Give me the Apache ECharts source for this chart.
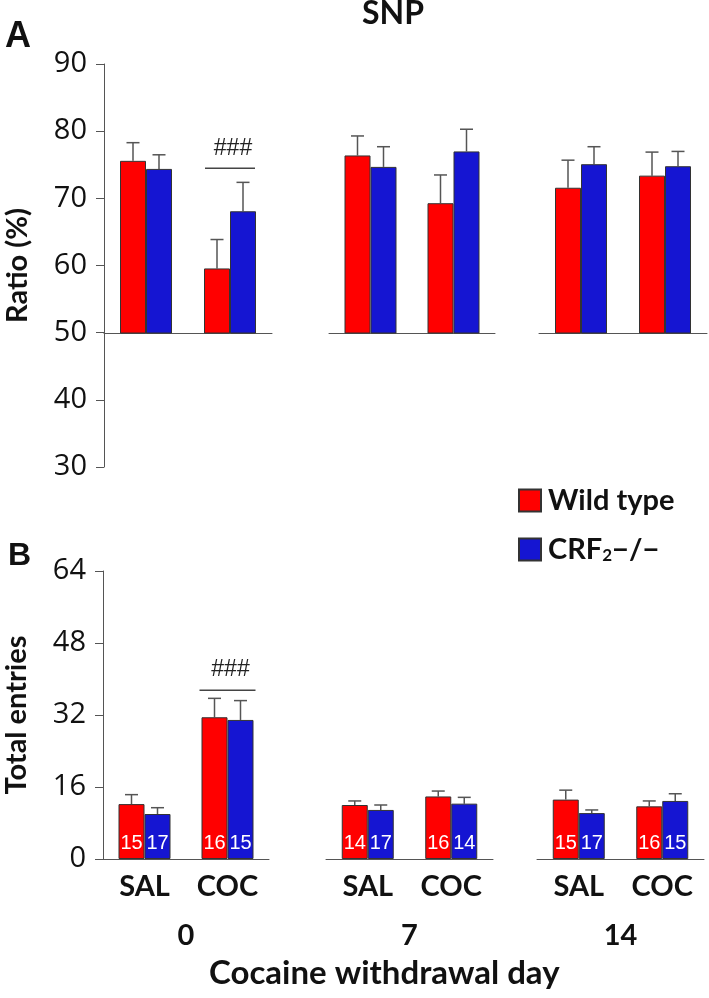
<!DOCTYPE html>
<html><head><meta charset="utf-8">
<script src="https://cdn.jsdelivr.net/npm/echarts@6/dist/echarts.min.js"></script>
<style>html,body{margin:0;padding:0;background:#fff}#c{width:709px;height:998px}</style>
</head><body><div id="c"></div>
<script>
// ---- data ----
const days = ['0', '7', '14'];
const treatments = ['SAL', 'COC'];
const seriesNames = ['Wild type', 'CRF2−/−'];
// order: day0 SAL, day0 COC, day7 SAL, day7 COC, day14 SAL, day14 COC
const ratioWT = [75.6, 59.6, 76.4, 69.3, 71.6, 73.4];
const ratioWTErr = [2.7, 4.3, 2.9, 4.2, 4.1, 3.5];
const ratioKO = [74.4, 68.1, 74.7, 77.0, 75.1, 74.8];
const ratioKOErr = [2.1, 4.3, 3.0, 3.3, 2.6, 2.2];
const entriesWT = [12.2, 31.5, 12.0, 13.9, 13.2, 11.7];
const entriesWTErr = [2.1, 4.2, 0.9, 1.2, 2.1, 1.2];
const entriesKO = [10.0, 30.9, 10.9, 12.3, 10.2, 12.9];
const entriesKOErr = [1.4, 4.3, 1.1, 1.4, 0.7, 1.6];
const nWT = [15, 16, 14, 16, 15, 16];
const nKO = [17, 15, 17, 14, 17, 15];
const ratioTicks = [30, 40, 50, 60, 70, 80, 90];
const ratioBase = 50;
const entriesTicks = [0, 16, 32, 48, 64];
const sigRatio = {cat: 'COC', y: 74.5, text: '###'};
const sigEntries = {cat: 'COC', y: 37.5, text: '###'};

// ---- style ----
const RED = '#ff0000', BLUE = '#1515d2', AX = '#555';
const BOLD = 'Lato';
const BW = 26;

const chart = echarts.init(document.getElementById('c'));

const gridsA = [{left:104,width:168},{left:329,width:166},{left:539,width:168}];
const gridsB = [{left:103,width:166},{left:326,width:167},{left:537,width:167}];
const topA = 64, hA = 269, hAfull = 403;
const topB = 571, hB = 288;

const grid = [{left:104, top:topA, width:1, height:hAfull}];
gridsA.forEach(g => grid.push({left:g.left, top:topA, width:g.width, height:hA}));
gridsB.forEach(g => grid.push({left:g.left, top:topB, width:g.width, height:hB}));

const tickLabel = {fontFamily:'Open Sans', fontSize:29, color:'#111', margin:17};
const xAxis = [{type:'category', gridIndex:0, data:[''], show:false}];
const yAxis = [{
  type:'value', gridIndex:0, min:ratioTicks[0], max:ratioTicks[ratioTicks.length-1],
  interval:ratioTicks[1]-ratioTicks[0],
  axisLine:{show:true, lineStyle:{color:AX, width:1}},
  axisTick:{show:true, length:8, lineStyle:{color:AX}},
  axisLabel:tickLabel,
  splitLine:{show:false},
  name:'Ratio (%)', nameLocation:'middle', nameGap:72, nameRotate:90,
  nameTextStyle:{fontFamily:BOLD, fontWeight:'bold', fontSize:29, color:'#111'}
}];
gridsA.forEach((g,i) => {
  xAxis.push({type:'category', gridIndex:1+i, data:treatments,
    axisLine:{show:true, lineStyle:{color:AX, width:1}}, axisTick:{show:false}, axisLabel:{show:false}});
  yAxis.push({type:'value', gridIndex:1+i, min:ratioBase, max:ratioTicks[ratioTicks.length-1], show:false, splitLine:{show:false}});
});
gridsB.forEach((g,i) => {
  xAxis.push({type:'category', gridIndex:4+i, data:treatments,
    axisLine:{show:true, lineStyle:{color:AX, width:1}}, axisTick:{show:false},
    axisLabel:{fontFamily:BOLD, fontWeight:'bold', fontSize:29, color:'#111', margin:13},
    name:days[i], nameLocation:'middle', nameGap:62,
    nameTextStyle:{fontFamily:BOLD, fontWeight:'bold', fontSize:29, color:'#111'}});
  yAxis.push({type:'value', gridIndex:4+i, min:entriesTicks[0], max:entriesTicks[entriesTicks.length-1],
    interval:entriesTicks[1]-entriesTicks[0], show:i===0,
    axisLine:{show:true, lineStyle:{color:AX, width:1}},
    axisTick:{show:true, length:8, lineStyle:{color:AX}},
    axisLabel:tickLabel,
    splitLine:{show:false},
    name:i===0?'Total entries':'', nameLocation:'middle', nameGap:72, nameRotate:90,
    nameTextStyle:{fontFamily:BOLD, fontWeight:'bold', fontSize:29, color:'#111'}});
});

function errSeries(axisIdx, vals, errs, offset){
  return {
    type:'custom', xAxisIndex:axisIdx, yAxisIndex:axisIdx, z:1, silent:true,
    data: treatments.map((t,j)=>[j, vals[j], vals[j]+errs[j]]),
    renderItem:(params, api) => {
      const lo = api.coord([api.value(0), api.value(1)]);
      const hi = api.coord([api.value(0), api.value(2)]);
      const x = lo[0] + offset;
      const st = {stroke:'#555', lineWidth:1.5};
      return {type:'group', children:[
        {type:'line', shape:{x1:x, y1:lo[1], x2:x, y2:hi[1]}, style:st},
        {type:'line', shape:{x1:x-6.5, y1:hi[1], x2:x+6.5, y2:hi[1]}, style:st}
      ]};
    }
  };
}
function sigSeries(axisIdx, sig, halfW, gap){
  return {
    type:'custom', xAxisIndex:axisIdx, yAxisIndex:axisIdx, silent:true, z:5,
    data:[[treatments.indexOf(sig.cat), sig.y]],
    renderItem:(params, api) => {
      const p = api.coord([api.value(0), api.value(1)]);
      return {type:'group', children:[
        {type:'line', shape:{x1:p[0]-halfW, y1:p[1], x2:p[0]+halfW, y2:p[1]}, style:{stroke:'#444', lineWidth:1.3}},
        {type:'text', x:p[0]+3, y:p[1]-gap, style:{text:sig.text, fill:'#222', font:'23px "Liberation Sans"', textAlign:'center', textVerticalAlign:'bottom'}}
      ]};
    }
  };
}

const series = [];
gridsA.forEach((g,i) => {
  const ax = 1+i, s = 2*i, e = 2*i+2;
  series.push({type:'bar', name:seriesNames[0], xAxisIndex:ax, yAxisIndex:ax, barWidth:BW, barGap:'0%', z:2,
    itemStyle:{color:RED, borderColor:'#333', borderWidth:1}, data:ratioWT.slice(s,e)});
  series.push({type:'bar', name:seriesNames[1], xAxisIndex:ax, yAxisIndex:ax, barWidth:BW, barGap:'0%', z:2,
    itemStyle:{color:BLUE, borderColor:'#333', borderWidth:1}, data:ratioKO.slice(s,e)});
  series.push(errSeries(ax, ratioWT.slice(s,e), ratioWTErr.slice(s,e), -BW/2));
  series.push(errSeries(ax, ratioKO.slice(s,e), ratioKOErr.slice(s,e), BW/2));
});
gridsB.forEach((g,i) => {
  const ax = 4+i, s = 2*i, e = 2*i+2;
  const lbl = {show:true, position:'insideBottom', distance:6, color:'#fff', fontFamily:'Liberation Sans', fontSize:20};
  series.push({type:'bar', name:seriesNames[0], xAxisIndex:ax, yAxisIndex:ax, barWidth:BW, barGap:'0%', z:2,
    itemStyle:{color:RED, borderColor:'#333', borderWidth:1},
    data:entriesWT.slice(s,e).map((v,j)=>({value:v, n:nWT[s+j]})),
    label:Object.assign({formatter:p=>String(p.data.n)}, lbl)});
  series.push({type:'bar', name:seriesNames[1], xAxisIndex:ax, yAxisIndex:ax, barWidth:BW, barGap:'0%', z:2,
    itemStyle:{color:BLUE, borderColor:'#333', borderWidth:1},
    data:entriesKO.slice(s,e).map((v,j)=>({value:v, n:nKO[s+j]})),
    label:Object.assign({formatter:p=>String(p.data.n)}, lbl)});
  series.push(errSeries(ax, entriesWT.slice(s,e), entriesWTErr.slice(s,e), -BW/2));
  series.push(errSeries(ax, entriesKO.slice(s,e), entriesKOErr.slice(s,e), BW/2));
});
series.push(sigSeries(1, sigRatio, 25, 8));
series.push(sigSeries(4, sigEntries, 28, 9));

chart.setOption({
  animation:false,
  backgroundColor:'#fff',
  grid, xAxis, yAxis, series,
  legend:{
    data:seriesNames, orient:'vertical', left:513, top:481, itemWidth:22, itemHeight:22, itemGap:20,
    icon:'rect', selectedMode:false,
    formatter: n => n === seriesNames[1] ? '{b|CRF}{s|2}{b|−/−}' : '{b|' + n + '}',
    textStyle:{padding:[0,0,0,2], rich:{
      b:{fontFamily:BOLD, fontWeight:'bold', fontSize:29, color:'#111', lineHeight:30},
      s:{fontFamily:BOLD, fontWeight:'bold', fontSize:17, color:'#111', lineHeight:12, verticalAlign:'bottom'}
    }}
  },
  graphic:[
    {type:'text', left:5, top:19, style:{text:'A', font:'bold 36px "Liberation Sans"', fill:'#111'}},
    {type:'text', left:8, top:540, style:{text:'B', font:'bold 32px "Liberation Sans"', fill:'#111'}},
    {type:'text', left:362, top:-2, style:{text:'SNP', font:'bold 32px Lato', fill:'#111'}},
    {type:'text', left:209, top:957, style:{text:'Cocaine withdrawal day', font:'bold 33px Lato', fill:'#111'}}
  ]
});
</script></body></html>
